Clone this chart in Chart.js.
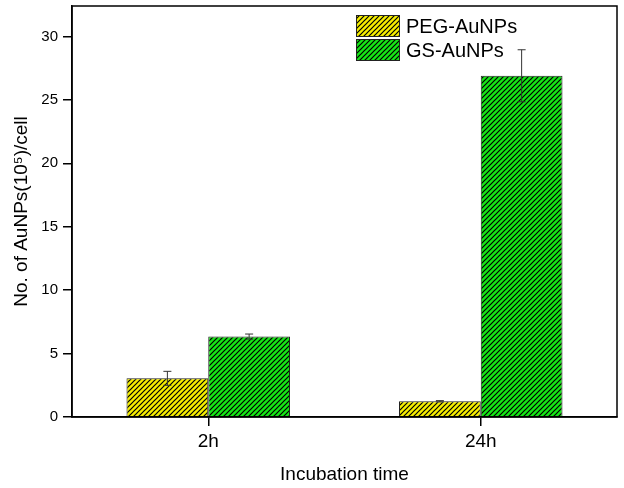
<!DOCTYPE html>
<html>
<head>
<meta charset="utf-8">
<script src="https://cdn.jsdelivr.net/npm/chart.js@4"></script>
<style>
  body { margin: 0; background: #fff; }
  canvas { display: block; }
</style>
</head>
<body>
<canvas id="c" width="624" height="488"></canvas>
<script>
const categories = ['2h', '24h'];
const pegValues = [3.05, 1.24];
const pegErrors = [0.55, 0.05];
const gsValues = [6.34, 26.9];
const gsErrors = [0.2, 2.05];
const seriesNames = ['PEG-AuNPs', 'GS-AuNPs'];

const canvas = document.getElementById('c');
const ctx = canvas.getContext('2d');

// diagonal hatch fill like the Origin plot
function hatch(color) {
  const s = 5;
  const c = document.createElement('canvas');
  c.width = c.height = s;
  const g = c.getContext('2d');
  g.fillStyle = color;
  g.fillRect(0, 0, s, s);
  g.strokeStyle = '#000';
  g.lineWidth = 1.2;
  g.beginPath();
  g.moveTo(0, s); g.lineTo(s, 0);
  g.moveTo(-1, 1); g.lineTo(1, -1);
  g.moveTo(s - 1, s + 1); g.lineTo(s + 1, s - 1);
  g.stroke();
  return ctx.createPattern(c, 'repeat');
}

const pegFill = hatch('#f5ee00');
const gsFill = hatch('#16e616');

const errorBars = {
  id: 'errorBars',
  afterDatasetsDraw(chart) {
    const y = chart.scales.y;
    const c = chart.ctx;
    c.save();
    c.strokeStyle = '#333';
    c.lineWidth = 1;
    chart.data.datasets.forEach((ds, i) => {
      chart.getDatasetMeta(i).data.forEach((bar, j) => {
        const v = ds.data[j], e = ds.errors[j];
        const top = y.getPixelForValue(v + e);
        const bot = y.getPixelForValue(v - e);
        c.beginPath();
        c.moveTo(bar.x, top); c.lineTo(bar.x, bot);
        c.moveTo(bar.x - 4, top); c.lineTo(bar.x + 4, top);
        c.moveTo(bar.x - 4, bot); c.lineTo(bar.x + 4, bot);
        c.stroke();
      });
    });
    c.restore();
  }
};

const frame = {
  id: 'frame',
  afterDraw(chart) {
    const a = chart.chartArea;
    const c = chart.ctx;
    c.save();
    c.strokeStyle = '#000';
    c.lineWidth = 1.5;
    c.strokeRect(a.left, a.top, a.right - a.left, a.bottom - a.top);
    // legend
    c.font = '20px "Liberation Sans", Arial, sans-serif';
    c.textBaseline = 'middle';
    chart.data.datasets.forEach((ds, i) => {
      const bx = 356, by = 15 + i * 24;
      c.fillStyle = ds.backgroundColor;
      c.fillRect(bx, by, 44, 22);
      c.lineWidth = 1;
      c.strokeStyle = '#222';
      c.strokeRect(bx + 0.5, by + 0.5, 43, 21);
      c.fillStyle = '#000';
      c.fillText(ds.label, 406, by + 12);
    });
    c.restore();
  }
};

new Chart(canvas, {
  type: 'bar',
  data: {
    labels: categories,
    datasets: [
      { label: seriesNames[0], data: pegValues, errors: pegErrors, backgroundColor: pegFill, borderColor: '#222', borderWidth: 1 },
      { label: seriesNames[1], data: gsValues, errors: gsErrors, backgroundColor: gsFill, borderColor: '#222', borderWidth: 1 },
    ],
  },
  options: {
    responsive: false,
    animation: false,
    categoryPercentage: 0.6,
    barPercentage: 1.0,
    layout: { padding: { left: 0, right: 7, top: 6, bottom: 0 } },
    plugins: { legend: { display: false }, tooltip: { enabled: false } },
    scales: {
      x: {
        grid: { offset: false, drawOnChartArea: false, tickLength: 9, color: '#000', lineWidth: 1.5 },
        border: { color: '#000', width: 1.5 },
        ticks: { color: '#000', padding: 4, font: { family: '"Liberation Sans", Arial', size: 19 } },
        title: { display: true, text: 'Incubation time', color: '#000', padding: { top: 0, bottom: 2 }, font: { family: '"Liberation Sans", Arial', size: 19 } },
        afterFit(s) { s.height = 71; s.paddingLeft = 0; s.paddingRight = 0; },
      },
      y: {
        min: 0,
        max: 32.4,
        grid: { drawOnChartArea: false, tickLength: 9, color: '#000', lineWidth: 1.5 },
        border: { color: '#000', width: 1.5 },
        ticks: { stepSize: 5, includeBounds: false, color: '#000', padding: 5, font: { family: '"Liberation Sans", Arial', size: 15 } },
        title: { display: true, text: 'No. of AuNPs(10\u2075)/cell', color: '#000', padding: { top: 10, bottom: 0 }, font: { family: '"Liberation Sans", Arial', size: 19 } },
        afterFit(s) { s.width = 72; s.paddingTop = 0; s.paddingBottom = 0; },
      },
    },
  },
  plugins: [errorBars, frame],
});
</script>
</body>
</html>
